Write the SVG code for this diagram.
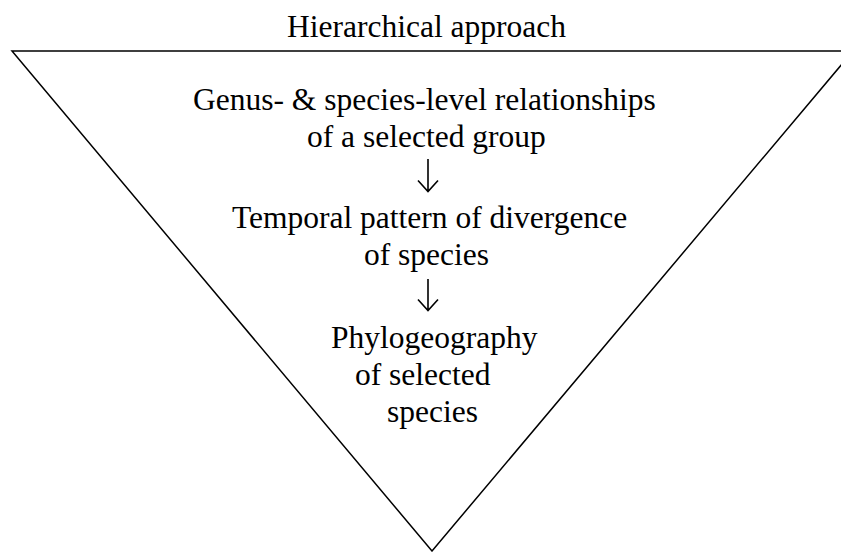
<svg xmlns="http://www.w3.org/2000/svg" width="841" height="552" viewBox="0 0 841 552">
<style>
.t{font-family:"Liberation Serif","Times New Roman",serif;font-size:31.5px;fill:#000}
.tri{fill:none;stroke:#000;stroke-width:1.5}
.arr{fill:none;stroke:#000;stroke-width:1.6;stroke-linejoin:miter}
</style>
<rect width="841" height="552" fill="#fff"/>
<g id="title"><text class="t" x="287" y="37">Hierarchical approach</text></g>
<g id="triangle"><path class="tri" d="M12,51 L853,51 L432,551 Z"/></g>
<g id="node1">
<text class="t" x="193" y="110">Genus- &amp; species-level relationships</text>
<text class="t" x="307" y="147">of a selected group</text>
</g>
<g id="node2">
<text class="t" x="232" y="228">Temporal pattern of divergence</text>
<text class="t" x="364" y="265">of species</text>
</g>
<g id="node3">
<text class="t" x="331" y="348">Phylogeography</text>
<text class="t" x="355" y="385">of selected</text>
<text class="t" x="387" y="422">species</text>
</g>
<g id="connectors">
<path class="arr" d="M428,159 V191 M418,180.5 L428,191.5 L438,180.5"/>
<path class="arr" d="M428,279 V310 M418,299.5 L428,310.5 L438,299.5"/>
</g>
</svg>
